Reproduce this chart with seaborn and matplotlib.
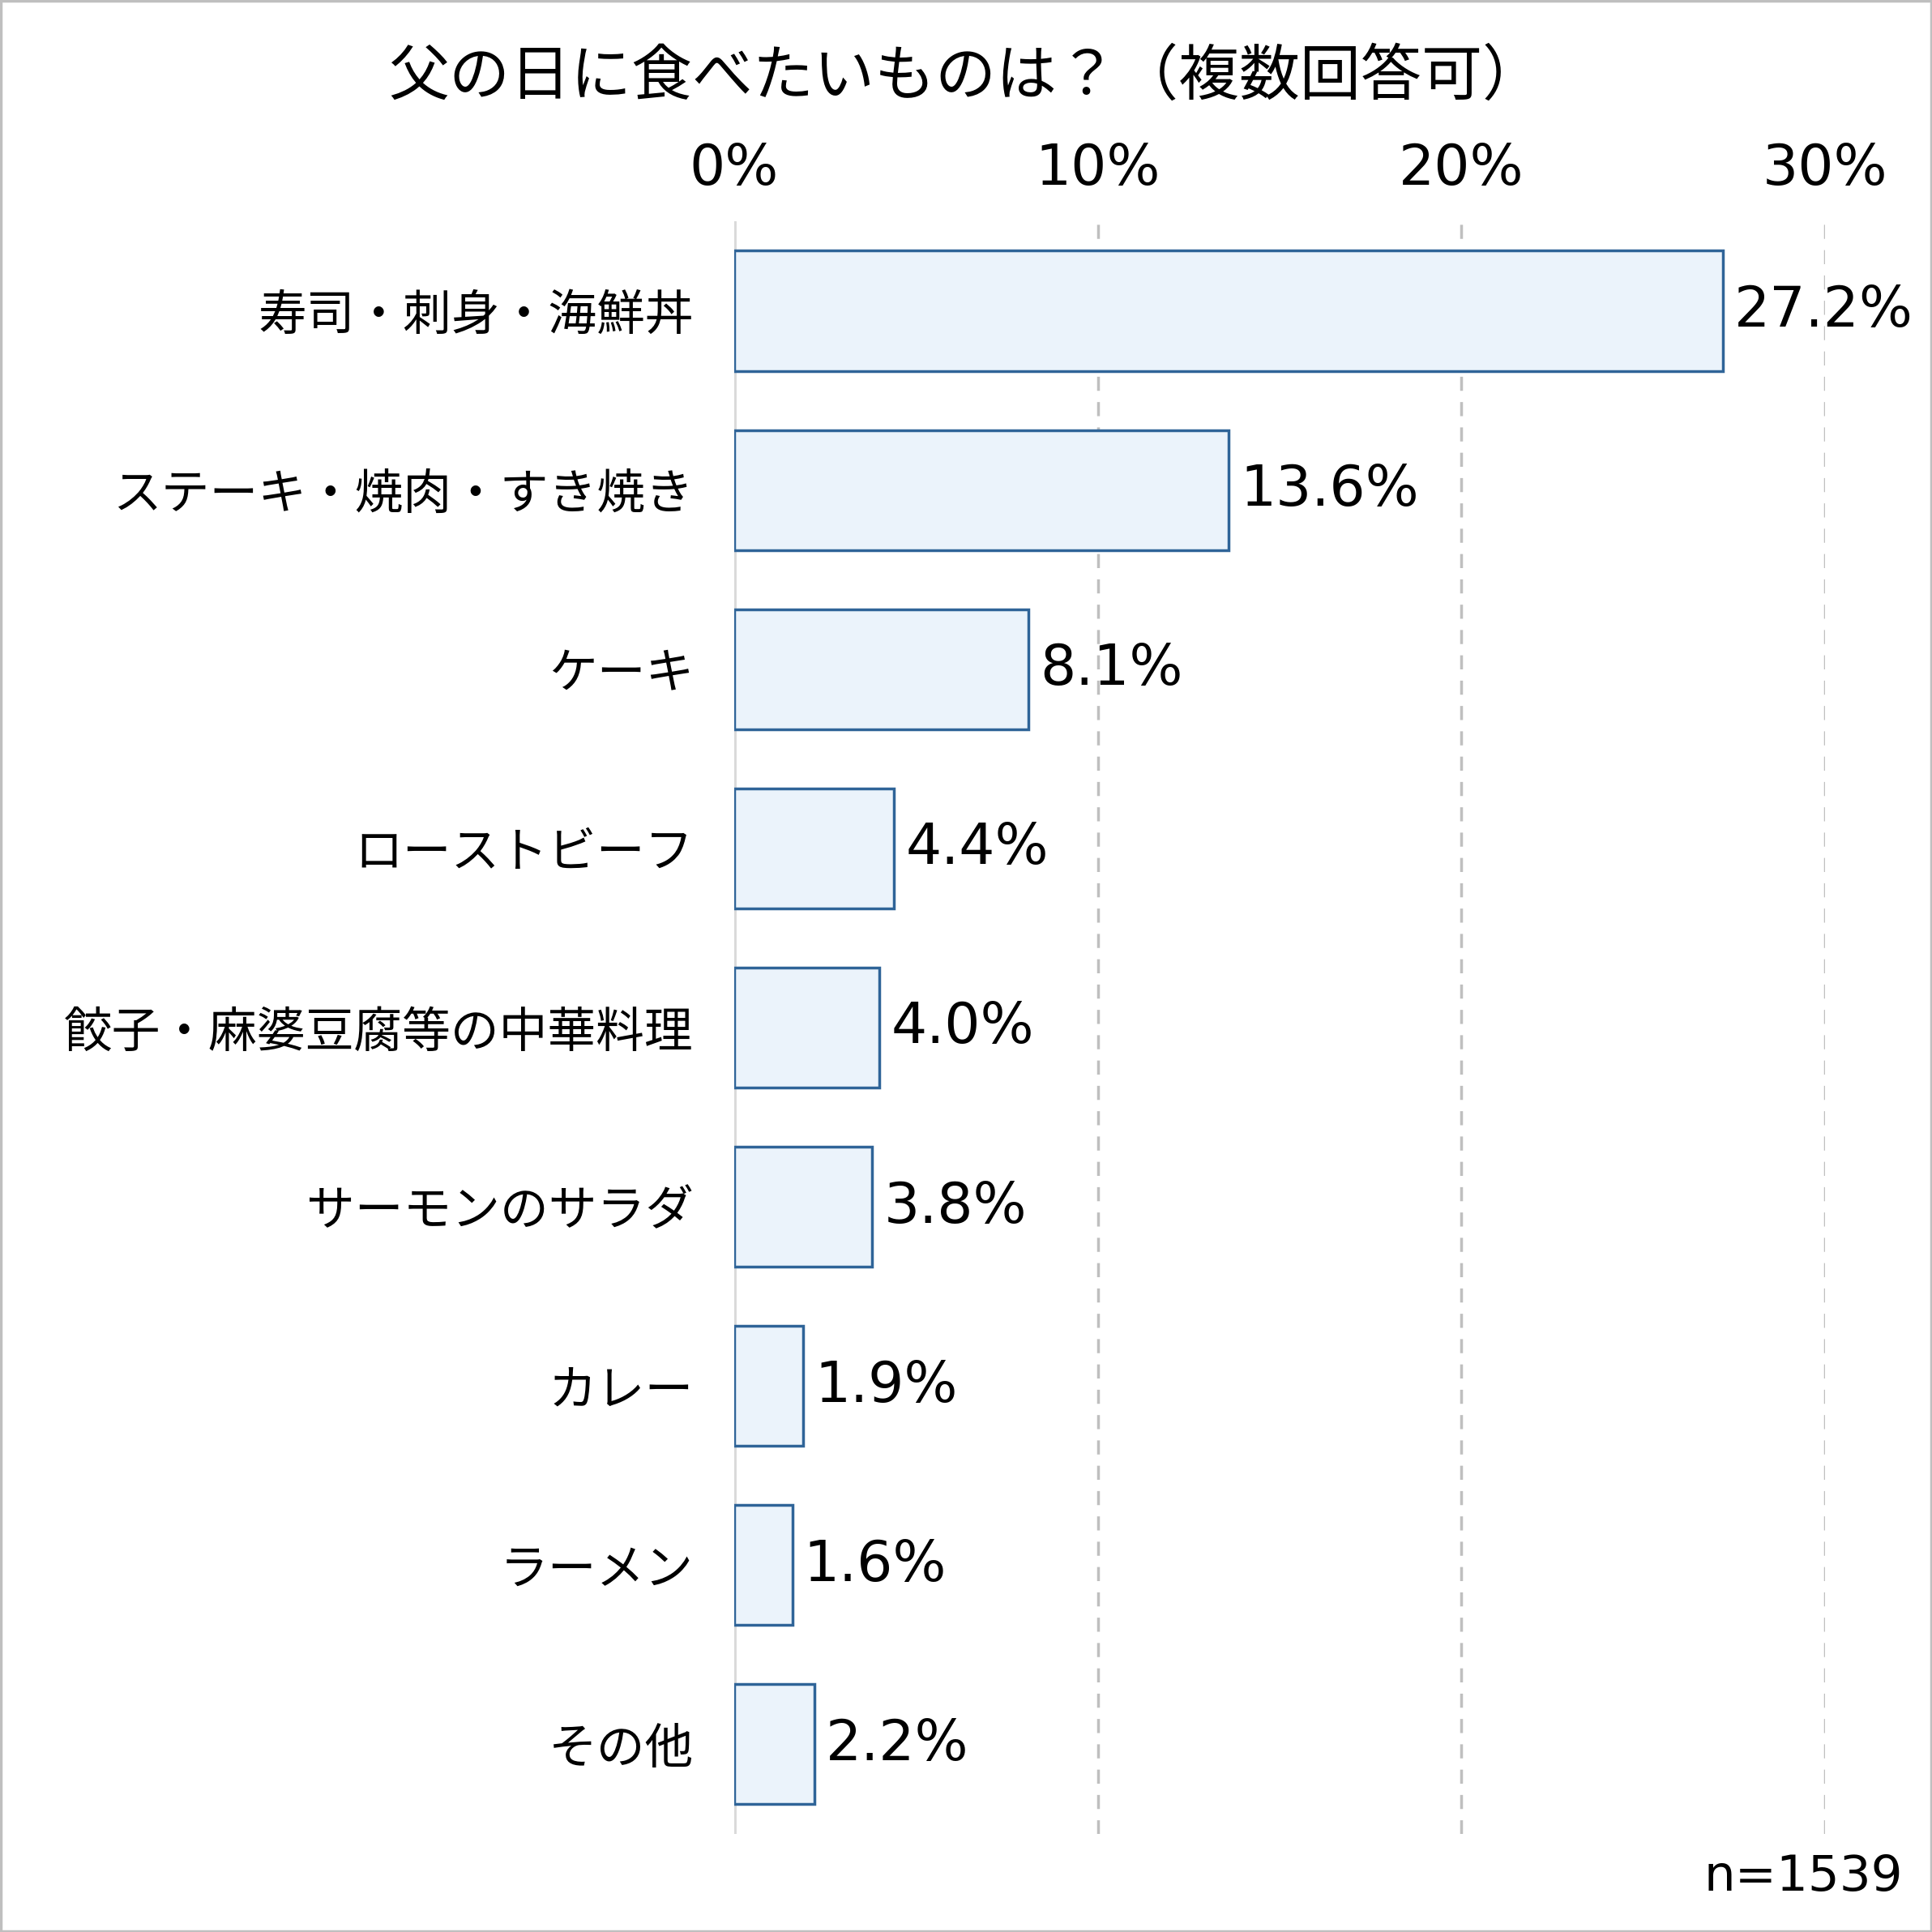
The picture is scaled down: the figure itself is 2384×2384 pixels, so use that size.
import numpy as np
import pandas as pd
import seaborn as sns
import matplotlib.pyplot as plt
from matplotlib.patches import Rectangle

# data
categories = ['寿司・刺身・海鮮丼', 'ステーキ・焼肉・すき焼き', 'ケーキ', 'ローストビーフ',
              '餃子・麻婆豆腐等の中華料理', 'サーモンのサラダ', 'カレー', 'ラーメン', 'その他']
values = [27.2, 13.6, 8.1, 4.4, 4.0, 3.8, 1.9, 1.6, 2.2]
x_ticks = [0, 10, 20, 30]
x_ticklabels = ['0%', '10%', '20%', '30%']
title = '父の日に食べたいものは？（複数回答可）'
note = 'n=1539'

sns.set_theme(style='white')
plt.rcParams['font.family'] = ['Noto Sans CJK JP', 'DejaVu Sans']
num_font = ['DejaVu Sans']

df = pd.DataFrame({'item': categories, 'pct': values})

fig = plt.figure(figsize=(23.84, 23.84), dpi=100)
ax = fig.add_axes([0.380, 0.0508, 0.9446 - 0.380, 0.8855 - 0.0508])

sns.barplot(data=df, y='item', x='pct', order=categories, orient='h',
            color='#EBF3FB', saturation=1, edgecolor='#2F6498', linewidth=2.5,
            width=0.67, ax=ax, zorder=3)

ax.set_xlim(0, 30)
ax.set_ylim(len(categories) - 0.5, -0.5)

# gridlines and zero line
for t in x_ticks[1:]:
    ax.axvline(t, color='#BFBFBF', lw=2.5, ls=(0, (5, 4)), zorder=1)
ax.axvline(0, color='#D9D9D9', lw=3.5, zorder=2)

for s in ax.spines.values():
    s.set_visible(False)

ax.xaxis.tick_top()
ax.set_xticks(x_ticks)
ax.set_xticklabels(x_ticklabels, fontsize=50, family=num_font)
ax.tick_params(axis='x', length=0, pad=22)
ax.tick_params(axis='y', length=0, pad=36, labelsize=43)
ax.set_xlabel('')
ax.set_ylabel('')
for lab in ax.get_yticklabels() + ax.get_xticklabels():
    lab.set_color('black')

# value labels
for i, v in enumerate(values):
    ax.annotate(f'{v:.1f}%', xy=(v, i), xytext=(10, 0), textcoords='offset points',
                va='center', ha='left', fontsize=50, family=num_font, color='black',
                annotation_clip=False, zorder=5)

fig.text(0.5, 0.960, title, ha='center', va='center', fontsize=54, color='black')
fig.text(0.985, 0.0285, note, ha='right', va='center', fontsize=44,
         family=num_font, color='black')

# thin grey frame round the whole picture
fig.patches.append(Rectangle((0.0005, 0.0005), 0.999, 0.999, transform=fig.transFigure,
                             fill=False, edgecolor='#BFBFBF', lw=2.5))

fig.savefig('out.png', dpi=100)
